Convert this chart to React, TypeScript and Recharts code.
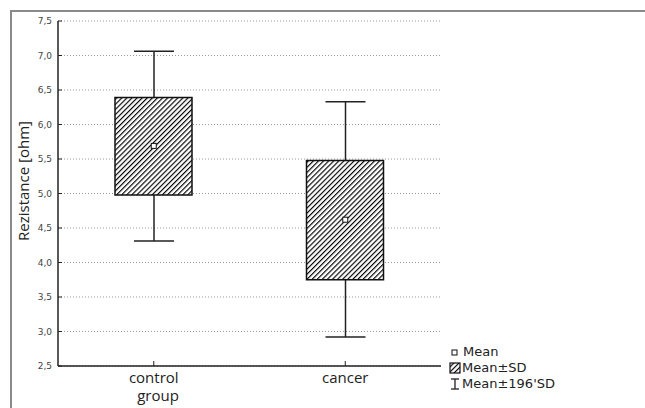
import React from "react";
import { ComposedChart, Bar, Scatter, XAxis, YAxis, CartesianGrid } from "recharts";

// group statistics
const groups = ["control", "cancer"];
const means = [5.69, 4.62];
const sdLow = [4.98, 3.75];
const sdHigh = [6.39, 5.48];
const ciLow = [4.31, 2.92];
const ciHigh = [7.06, 6.33];

const yTicks = [2.5, 3.0, 3.5, 4.0, 4.5, 5.0, 5.5, 6.0, 6.5, 7.0, 7.5];
const legendLabels = ["Mean", "Mean±SD", "Mean±196'SD"];

const data = groups.map((g, i) => ({
  group: g,
  mean: means[i],
  box: [sdLow[i], sdHigh[i]],
  whisker: [ciLow[i], ciHigh[i]],
}));

const FONT = "'Open Sans', sans-serif";
const TICK_FONT = "'DejaVu Sans', sans-serif";

const fmt = (v: number) => v.toFixed(1).replace(".", ",");

function Whisker(props: any) {
  const { x, y, width, height } = props;
  const cx = x + width / 2;
  return (
    <g stroke="#222" strokeWidth={1.5} fill="none">
      <line x1={cx} y1={y} x2={cx} y2={y + height} />
      <line x1={x} y1={y} x2={x + width} y2={y} />
      <line x1={x} y1={y + height} x2={x + width} y2={y + height} />
    </g>
  );
}

function MeanMark(props: any) {
  const { cx, cy } = props;
  return <rect x={cx - 2.5} y={cy - 2.5} width={5} height={5} fill="#fff" stroke="#111" strokeWidth={1} />;
}

function LegendBox() {
  const row = { display: "flex", alignItems: "center", height: 16 } as const;
  const txt = { marginLeft: 1, lineHeight: "14px", display: "block" } as const;
  return (
    <div
      style={{
        position: "absolute",
        left: 449,
        top: 344,
        fontFamily: "'DejaVu Sans', sans-serif",
        fontSize: 13,
        color: "#222",
      }}
    >
      <div style={row}>
        <svg width={12} height={12}>
          <rect x={3} y={4} width={5} height={5} fill="#fff" stroke="#111" />
        </svg>
        <span style={{ ...txt, marginLeft: 2 }}>{legendLabels[0]}</span>
      </div>
      <div style={row}>
        <svg width={12} height={12}>
          <rect x={1} y={1} width={10} height={10} fill="url(#hatch)" stroke="#111" strokeWidth={1.2} />
        </svg>
        <span style={txt}>{legendLabels[1]}</span>
      </div>
      <div style={row}>
        <svg width={12} height={12}>
          <g stroke="#222" strokeWidth={1.3}>
            <line x1={2} y1={1} x2={10} y2={1} />
            <line x1={6} y1={1} x2={6} y2={11} />
            <line x1={2} y1={11} x2={10} y2={11} />
          </g>
        </svg>
        <span style={txt}>{legendLabels[2]}</span>
      </div>
    </div>
  );
}

export default function App() {
  return (
    <div style={{ position: "absolute", left: 0, top: 0, width: 645, height: 408, background: "#fff", overflow: "hidden" }}>
      <svg width={0} height={0} style={{ position: "absolute" }}>
        <defs>
          <pattern id="hatch" patternUnits="userSpaceOnUse" width={3.6} height={3.6} patternTransform="rotate(45)">
            <rect width={3.6} height={3.6} fill="#fff" />
            <line x1={0} y1={0} x2={0} y2={3.6} stroke="#000" strokeWidth={2.3} />
          </pattern>
        </defs>
      </svg>
      <div
        style={{
          position: "absolute",
          left: 10,
          top: 10,
          width: 640,
          height: 400,
          borderTop: "2px solid #8a8a8a",
          borderLeft: "2px solid #8a8a8a",
        }}
      />
      <div style={{ position: "absolute", left: 0, top: 0 }}>
        <ComposedChart width={645} height={408} data={data} margin={{ top: 21, right: 204, bottom: 12, left: 10 }}>
          <CartesianGrid xAxisId="b" yAxisId="l" vertical={false} stroke="#999" strokeDasharray="1 2" />
          <XAxis
            xAxisId="b"
            dataKey="group"
            height={30}
            axisLine={{ stroke: "#222", strokeWidth: 1.5 }}
            tickLine={{ stroke: "#222" }}
            tickSize={-5}
            tickMargin={11}
            tick={{ fill: "#222", fontSize: 15, fontFamily: FONT }}
            label={{
              content: () => (
                <text x={158} y={401} textAnchor="middle" fill="#222" fontSize={15} fontFamily={FONT}>
                  group
                </text>
              ),
            }}
          />
          <XAxis xAxisId="w" dataKey="group" hide />
          <XAxis
            xAxisId="top"
            dataKey="group"
            orientation="top"
            height={0}
            tick={false}
            tickLine={false}
            axisLine={{ stroke: "#222", strokeWidth: 1.5 }}
          />
          <YAxis
            yAxisId="l"
            width={48}
            type="number"
            domain={[2.5, 7.5]}
            ticks={yTicks}
            tickFormatter={fmt}
            interval={0}
            tickSize={-4}
            tickMargin={10}
            axisLine={{ stroke: "#222", strokeWidth: 1.5 }}
            tickLine={{ stroke: "#222" }}
            tick={{ fill: "#444", fontSize: 9, fontFamily: TICK_FONT }}
            label={{
              content: () => (
                <text
                  x={23}
                  y={181}
                  transform="rotate(-90 23 181)"
                  textAnchor="middle"
                  dominantBaseline="central"
                  fill="#222"
                  fontSize={15}
                  fontFamily={FONT}
                >
                  Rezistance [ohm]
                </text>
              ),
            }}
          />
          <YAxis
            yAxisId="r"
            orientation="right"
            width={0}
            type="number"
            domain={[2.5, 7.5]}
            ticks={yTicks}
            interval={0}
            mirror
            tick={false}
            tickSize={4}
            axisLine={{ stroke: "#222", strokeWidth: 1.5 }}
            tickLine={{ stroke: "#222" }}
          />
          <Bar xAxisId="w" yAxisId="l" dataKey="whisker" barSize={40} shape={<Whisker />} isAnimationActive={false} />
          <Bar
            xAxisId="b"
            yAxisId="l"
            dataKey="box"
            barSize={77}
            fill="url(#hatch)"
            stroke="#111"
            strokeWidth={1.5}
            isAnimationActive={false}
          />
          <Scatter xAxisId="b" yAxisId="l" dataKey="mean" shape={<MeanMark />} isAnimationActive={false} />
        </ComposedChart>
      </div>
      <LegendBox />
    </div>
  );
}
